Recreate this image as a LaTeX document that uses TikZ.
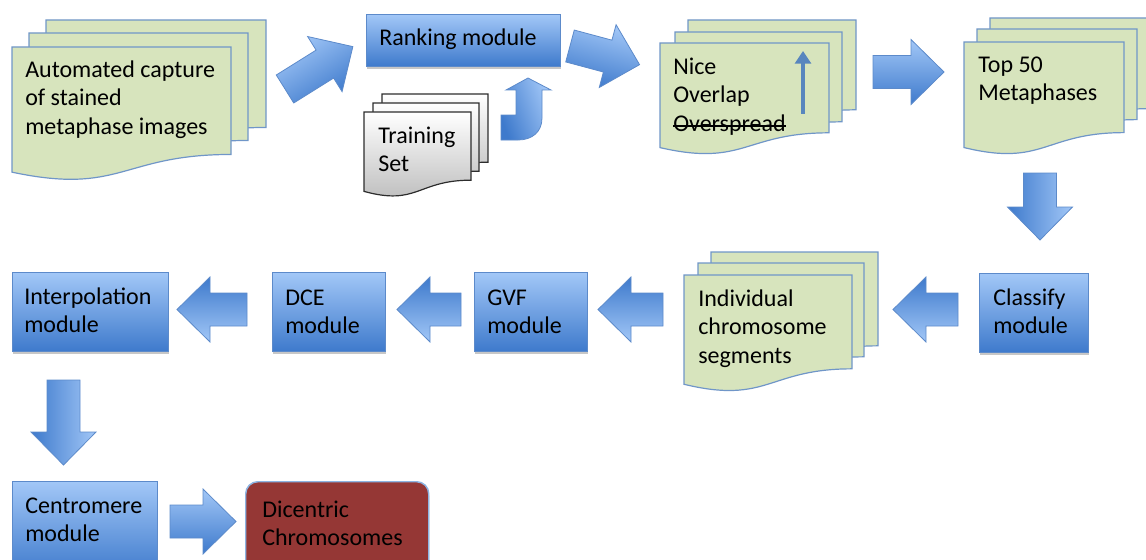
\documentclass[tikz,border=0pt]{standalone}
\usepackage{fontspec}
\setmainfont{Carlito}
\usetikzlibrary{arrows.meta,shadows}
\definecolor{docfill}{RGB}{215,228,189}
\definecolor{docline}{RGB}{112,150,200}
\definecolor{bluelight}{RGB}{162,199,247}
\definecolor{bluedark}{RGB}{62,122,204}
\definecolor{blueline}{RGB}{92,138,202}
\definecolor{grayline}{RGB}{45,45,45}
\definecolor{graydark}{RGB}{185,185,185}
\definecolor{dicfill}{RGB}{149,55,53}
\definecolor{dicline}{RGB}{141,180,226}
\definecolor{thinblue}{RGB}{88,134,190}
\newcommand{\mystrut}{\rule{0pt}{14.4pt}}
\newsavebox{\strikebox}
\newcommand{\strikeout}[1]{\sbox{\strikebox}{#1}\rlap{\usebox{\strikebox}}\rule[0.2em]{\wd\strikebox}{1.1pt}}
\tikzset{
  txt/.style={anchor=north west, inner sep=0pt, align=left,
    font=\fontsize{18pt}{21.4pt}\selectfont, text=black},
  softshadow/.style={drop shadow={shadow xshift=0.4pt, shadow yshift=-1.6pt, opacity=0.22, fill=black}},
  greendoc/.style={fill=docfill, draw=docline, line width=0.9pt},
  graydoc/.style={top color=white, bottom color=graydark, draw=grayline, line width=0.9pt},
  modbox/.style={top color=bluelight, bottom color=bluedark, draw=blueline,
    line width=0.7pt, anchor=north west, inner sep=0pt, softshadow},
  barrowstyle/.style={top color=bluelight, bottom color=bluedark, draw=blueline, line width=0.6pt},
  dicbox/.style={fill=dicfill, draw=dicline, line width=1.1pt, rounded corners=9pt,
    anchor=north west, inner sep=0pt, softshadow},
  thinarrow/.style={draw=thinblue, line width=2.3pt, -{Triangle[width=12pt,length=9.5pt]}}
}
% document shape: style, x, y, w, h
\newcommand{\docshape}[5]{%
  \path[#1] (#2,#3) -- ({#2+#4},#3) -- ({#2+#4},{#3+0.802*#5})
    .. controls ({#2+0.5*#4},{#3+0.802*#5}) and ({#2+0.5*#4},{#3+1.1075*#5}) ..
    (#2,{#3+0.934*#5}) -- cycle;}
% block arrow: tail centre x, y, angle, length
\newcommand{\blockarrow}[4]{%
  \begin{scope}[shift={(#1,#2)}, rotate=#3]
    \path[barrowstyle, shading angle=#3] (0,-16.5) -- ({#4-33},-16.5) -- ({#4-33},-32.5)
      -- (#4,0) -- ({#4-33},32.5) -- ({#4-33},16.5) -- (0,16.5) -- cycle;
  \end{scope}}
\begin{document}
\begin{tikzpicture}[x=0.75pt, y=-0.75pt]
\useasboundingbox (0,0) rectangle (1146,560);
\clip (0,0) rectangle (1146,560);

% ---- stack 1: capture
\docshape{greendoc}{46}{20}{220}{134}
\docshape{greendoc}{29}{33}{219}{134}
\docshape{greendoc}{12}{47}{219}{134}
\node[txt] (capture) at (25,57.8) {\mystrut Automated capture\\of stained\\metaphase images};

% ---- ranking module
\node[modbox, minimum width=145.5pt, minimum height=39pt] (rankbox) at (366,14) {};
\node[txt] (rank) at (379,25.8) {\mystrut Ranking module};

% ---- training set
\docshape{graydoc}{382}{94}{106}{85}
\docshape{graydoc}{373}{103}{106}{85}
\docshape{graydoc}{364}{112}{107}{85}
\node[txt] (train) at (378,123.8) {\mystrut Training\\Set};

% ---- nice / overlap stack
\docshape{greendoc}{688}{20}{168}{112}
\docshape{greendoc}{675}{32}{167}{112}
\docshape{greendoc}{660}{43}{169}{112}
\node[txt] (nice) at (673,54.8) {\mystrut Nice\\Overlap\\\strikeout{Overspread}};
\coordinate (upA) at (803,114);
\coordinate (upB) at (803,51);
\draw[thinarrow] (upA) -- (upB);

% ---- top 50 stack
\docshape{greendoc}{990}{18}{160}{113}
\docshape{greendoc}{977}{29}{160}{113}
\docshape{greendoc}{964}{42}{160}{113}
\node[txt] (top) at (978,52.8) {\mystrut Top 50\\Metaphases};

% ---- classify
\node[modbox, minimum width=81.75pt, minimum height=59.25pt] (classbox) at (979,273) {};
\node[txt] (classify) at (993,285.8) {\mystrut Classify\\module};

% ---- individual segments stack
\docshape{greendoc}{711}{252}{167}{117}
\docshape{greendoc}{698}{263}{166}{117}
\docshape{greendoc}{684}{275}{168}{117}
\node[txt] (indiv) at (698,286.8) {\mystrut Individual\\chromosome\\segments};

% ---- GVF, DCE, interpolation
\node[modbox, minimum width=84.75pt, minimum height=59.25pt] (gvfbox) at (474,272) {};
\node[txt] (gvf) at (487,285.8) {\mystrut GVF\\module};
\node[modbox, minimum width=84.75pt, minimum height=59.25pt] (dcebox) at (272,272) {};
\node[txt] (dce) at (285,285.8) {\mystrut DCE\\module};
\node[modbox, minimum width=117pt, minimum height=59.25pt] (interpbox) at (12,272) {};
\node[txt] (interp) at (24,284.8) {\mystrut Interpolation\\module};

% ---- centromere, dicentric
\node[modbox, minimum width=108.75pt, minimum height=70.5pt] (centbox) at (12,481) {};
\node[txt] (cent) at (25,493.8) {\mystrut Centromere\\module};
\node[dicbox, minimum width=137.25pt, minimum height=70.5pt] (dicbox) at (245,481) {};
\node[txt] (dic) at (262,497.8) {\mystrut Dicentric\\Chromosomes};

% ---- block arrows
\blockarrow{285}{89}{32}{80}
\blockarrow{570}{46}{-15}{72}
\blockarrow{873}{72}{0}{71}
\blockarrow{1040}{173}{-90}{67}
\blockarrow{958}{309.5}{180}{65}
\blockarrow{663}{309.5}{180}{65}
\blockarrow{461}{309.5}{180}{64}
\blockarrow{247}{309.5}{180}{70}
\blockarrow{63.5}{380}{-90}{85}
\blockarrow{170}{521.5}{0}{66}

% ---- bent-up arrow from training set to ranking module
\path[barrowstyle, shading angle=-70] (501,115) -- (516,115) -- (516,90) -- (506,90)
  -- (528,78) -- (551,90) -- (542,90) -- (542,118)
  .. controls (542,132) and (532,140) .. (518,140) -- (501,140) -- cycle;
\end{tikzpicture}
\end{document}
